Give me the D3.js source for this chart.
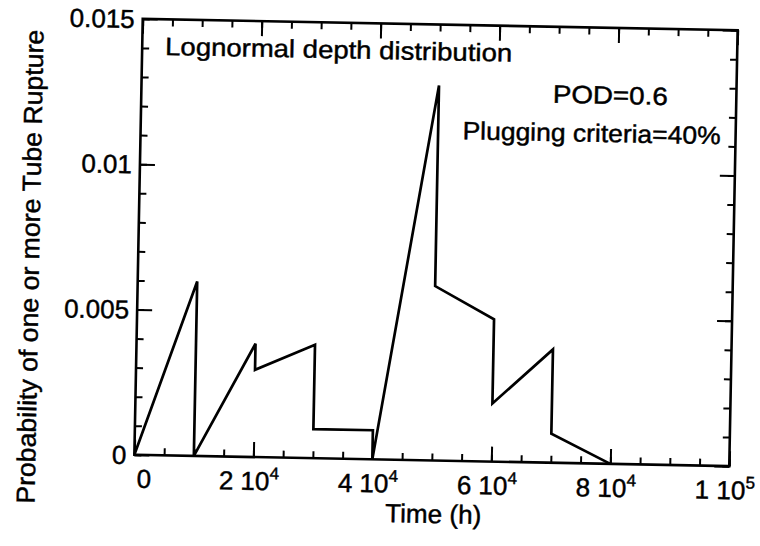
<!DOCTYPE html>
<html>
<head>
<meta charset="utf-8">
<script src="https://cdn.jsdelivr.net/npm/d3@7"></script>
<style>
body { margin: 0; background: #fff; }
svg { display: block; font-family: "Liberation Sans", Arial, Helvetica, sans-serif; }
.frame { fill: none; stroke: #000; stroke-width: 2.6; }
.axis .domain { display: none; }
.axis .tick line { stroke: #000; stroke-width: 2; }
.curve { fill: none; stroke: #000; stroke-width: 2.7; stroke-linejoin: miter; }
text { fill: #000; stroke: #000; stroke-width: 0.45; }
</style>
</head>
<body>
<div id="chart"></div>
<script>
// values
var timeH = [0, 10000, 10000, 20000, 20000, 30000, 30000, 40000, 40000, 50000, 50000, 60000, 60000, 70000, 70000, 80000];
var probRupture = [0, 0.006, 0, 0.0039, 0.003, 0.0039, 0.001, 0.001, 0, 0.0129, 0.006, 0.0049, 0.002, 0.0039, 0.001, 0];

var xMajorTicks = [0, 20000, 40000, 60000, 80000, 100000];
var xMantissa = ["0", "2", "4", "6", "8", "1"];
var xExponent = ["", "4", "4", "4", "4", "5"];
var yMajorTicks = [0, 0.005, 0.01, 0.015];
var yTickLabels = ["0", "0.005", "0.01", "0.015"];

var notes = ["Lognormal depth distribution", "POD=0.6", "Plugging criteria=40%"];
var xTitle = "Time (h)";
var yTitle = "Probability of one or more Tube Rupture";

var W = 760, H = 546;
var margin = {top: 24.5, left: 138.5};
var width = 595, height = 436;
var tilt = 1.1; // the scan is turned a little clockwise

var svg = d3.select("#chart").append("svg")
	.attr("width", W)
	.attr("height", H);

var g = svg.append("g")
	.attr("transform", "rotate(" + tilt + "," + (margin.left + width / 2) + "," + (margin.top + height / 2) + ")" +
		" translate(" + margin.left + "," + margin.top + ")");

var x = d3.scaleLinear().domain([0, 100000]).range([0, width]);
var y = d3.scaleLinear().domain([0, 0.015]).range([height, 0]);

var minorLen = 7, majorLen = 15;

// ticks on all four sides, pointing inwards
function drawTicks(axisFn, scale, values, len, transform) {
	g.append("g")
		.attr("class", "axis")
		.attr("transform", transform)
		.call(axisFn(scale).tickValues(values).tickSize(-len).tickFormat(""));
}
var xMinor = x.ticks(20), yMinor = y.ticks(15);
drawTicks(d3.axisBottom, x, xMinor, minorLen, "translate(0," + height + ")");
drawTicks(d3.axisBottom, x, xMajorTicks, majorLen, "translate(0," + height + ")");
drawTicks(d3.axisTop, x, xMinor, minorLen, "translate(0,0)");
drawTicks(d3.axisTop, x, xMajorTicks, majorLen, "translate(0,0)");
drawTicks(d3.axisLeft, y, yMinor, minorLen, "translate(0,0)");
drawTicks(d3.axisLeft, y, yMajorTicks, majorLen, "translate(0,0)");
drawTicks(d3.axisRight, y, yMinor, minorLen, "translate(" + width + ",0)");
drawTicks(d3.axisRight, y, yMajorTicks, majorLen, "translate(" + width + ",0)");

g.append("rect")
	.attr("class", "frame")
	.attr("width", width)
	.attr("height", height);

// the curve
var line = d3.line()
	.x(function(d, i) { return x(timeH[i]); })
	.y(function(d) { return y(d); });

g.append("path")
	.attr("class", "curve")
	.attr("d", line(probRupture));

// y tick labels
g.selectAll(".ylab")
	.data(yMajorTicks)
	.enter().append("text")
	.attr("class", "ylab")
	.attr("x", -8)
	.attr("y", function(d) { return y(d); })
	.attr("dy", "0.36em")
	.attr("text-anchor", "end")
	.attr("font-size", 26)
	.text(function(d, i) { return yTickLabels[i]; });

// x tick labels, "2 10^4" style
var xlab = g.selectAll(".xlab")
	.data(xMajorTicks)
	.enter().append("text")
	.attr("class", "xlab")
	.attr("x", function(d, i) { return x(d) + (i === 0 ? 10 : -4); })
	.attr("y", height + 33)
	.attr("text-anchor", "middle")
	.attr("font-size", 26);

xlab.append("tspan")
	.text(function(d, i) { return xExponent[i] ? xMantissa[i] + " 10" : xMantissa[i]; });
xlab.append("tspan")
	.attr("font-size", 17)
	.attr("dy", -11)
	.text(function(d, i) { return xExponent[i]; });

// axis titles
g.append("text")
	.attr("x", 300)
	.attr("y", height + 62.5)
	.attr("text-anchor", "middle")
	.attr("font-size", 26)
	.attr("textLength", 96)
	.attr("lengthAdjust", "spacingAndGlyphs")
	.text(xTitle);

g.append("text")
	.attr("transform", "translate(-99," + 250 + ") rotate(-90)")
	.attr("text-anchor", "middle")
	.attr("font-size", 26)
	.attr("textLength", 474)
	.attr("lengthAdjust", "spacingAndGlyphs")
	.text(yTitle);

// annotations inside the plot
var notePos = [[23, 35.7, 347], [411.5, 76, 115], [322, 114.3, 258]];
g.selectAll(".note")
	.data(notes)
	.enter().append("text")
	.attr("class", "note")
	.attr("x", function(d, i) { return notePos[i][0]; })
	.attr("y", function(d, i) { return notePos[i][1]; })
	.attr("font-size", 25)
	.attr("textLength", function(d, i) { return notePos[i][2]; })
	.attr("lengthAdjust", "spacingAndGlyphs")
	.text(function(d) { return d; });
</script>
</body>
</html>
